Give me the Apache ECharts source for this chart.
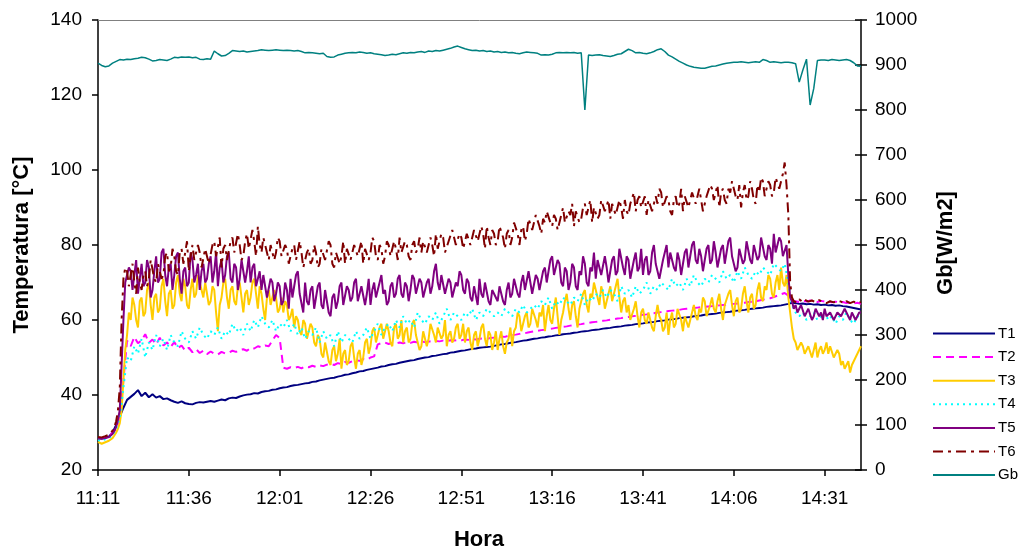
<!DOCTYPE html>
<html>
<head>
<meta charset="utf-8">
<script src="https://cdn.jsdelivr.net/npm/echarts@6/dist/echarts.min.js"></script>
<style>
html,body{margin:0;padding:0;background:#fff;}
#chart{width:1021px;height:550px;}
</style>
</head>
<body>
<div id="chart"></div>
<script>
// Time axis: minutes since 11:11
const START_H = 11, START_M = 11;
const X_MAX = 210;
const X_TICK = 25;
const SERIES_NAMES = ['T1', 'T2', 'T3', 'T4', 'T5', 'T6', 'Gb'];
// minutes between readings for each series
const STEPS = { T1: 1, T2: 1, T3: 0.5, T4: 1, T5: 0.5, T6: 0.5, Gb: 1 };

const T1 = [
28.5,28.4,28.6,28.9,30.0,32.0,34.2,36.6,38.7,39.5,
40.3,41.3,39.7,40.6,39.4,40.2,39.3,39.7,38.9,39.1,
38.6,38.2,37.9,38.3,37.8,37.6,37.5,37.9,38.1,38.0,
38.2,38.4,38.2,38.5,38.8,38.6,39.1,39.3,39.2,39.6,
39.9,40.1,40.2,40.5,40.4,40.8,41.0,41.1,41.4,41.5,
41.8,42.0,42.1,42.4,42.6,42.7,42.9,43.1,43.2,43.5,
43.6,43.9,44.1,44.3,44.5,44.6,44.9,45.1,45.4,45.5,
45.8,46.0,46.3,46.4,46.7,46.9,47.1,47.3,47.6,47.7,
48.0,48.2,48.3,48.6,48.8,49.0,49.2,49.3,49.6,49.8,
50.0,50.1,50.4,50.5,50.7,50.9,51.0,51.3,51.4,51.6,
51.8,51.9,52.1,52.3,52.4,52.6,52.7,52.8,52.9,53.1,
53.3,53.5,53.6,53.8,54.0,54.1,54.3,54.5,54.6,54.8,
55.0,55.1,55.3,55.4,55.6,55.7,55.9,56.0,56.2,56.3,
56.4,56.6,56.7,56.9,57.0,57.1,57.3,57.4,57.5,57.7,
57.8,57.9,58.1,58.2,58.3,58.5,58.6,58.7,58.9,59.0,
59.1,59.3,59.4,59.5,59.7,59.8,59.9,60.1,60.2,60.3,
60.5,60.6,60.7,60.8,61.0,61.1,61.2,61.4,61.5,61.6,
61.7,61.9,62.0,62.1,62.2,62.4,62.5,62.6,62.7,62.9,
63.0,63.1,63.2,63.3,63.5,63.6,63.7,63.8,63.9,64.1,
64.3,64.6,64.5,64.3,64.4,64.2,64.3,64.1,64.2,64.0,
64.1,63.9,64.0,63.8,63.9,63.7,63.6,63.4,63.2,63.0,
62.8];

const T2 = [
28.6,28.5,28.7,29.0,30.0,31.0,34.0,44.0,54.5,53.0,
55.5,53.8,54.6,56.2,53.9,54.8,53.5,55.3,53.2,54.0,
52.8,54.1,52.5,53.2,51.8,52.6,51.4,52.2,51.2,51.8,
50.9,51.6,51.0,50.8,51.5,51.1,51.3,51.8,51.5,52.0,
52.2,51.8,52.6,52.4,53.0,52.7,53.2,53.0,54.5,56.0,
55.2,47.3,47.0,47.4,47.2,47.5,47.1,47.6,47.4,47.8,
47.5,47.9,47.7,48.1,48.3,48.0,48.5,48.2,48.8,48.6,
49.0,49.3,49.1,49.6,49.4,50.0,50.3,53.5,53.8,54.0,
53.6,53.9,53.7,54.0,53.8,54.1,53.9,54.2,54.0,54.3,
54.1,54.3,54.2,54.4,54.3,54.5,54.4,54.6,54.5,54.7,
54.6,54.8,54.7,54.9,54.8,55.0,55.1,55.0,55.2,55.3,
55.4,55.6,55.5,55.8,56.0,56.1,56.3,56.5,56.6,56.8,
57.0,57.1,57.3,57.4,57.6,57.7,57.9,58.0,58.2,58.3,
58.5,58.6,58.8,58.9,59.1,59.2,59.4,59.5,59.6,59.8,
59.9,60.1,60.2,60.4,60.5,60.7,60.8,61.0,61.1,61.3,
61.4,61.5,61.7,61.8,62.0,62.1,62.2,62.4,62.5,62.6,
62.7,62.9,63.0,63.1,63.2,63.3,63.4,63.5,63.6,63.7,
63.8,63.9,64.0,64.1,64.2,64.3,64.4,64.5,64.6,64.8,
64.9,65.0,65.2,65.4,65.6,65.8,66.1,66.5,66.9,67.2,
66.5,65.2,65.0,64.8,65.1,64.9,65.2,65.0,64.8,65.1,
64.9,65.0,64.7,64.9,64.6,64.8,64.5,64.7,64.4,64.6,
64.3];

// half-minute readings
const T3 = [
27.5,27.2,27.0,27.3,27.4,27.6,27.8,28.1,28.5,29.2,30.0,31.0,32.5,36.0,44.0,52.0,56.0,62.0,60.0,66.0,
64,60,58,65,66,61,62,68,70,64,60,66,67,62,63,69,71,65,61,67,
68,63,64,70,72,67,65,71,69,64,63,68,71,66,67,72,72,68,66,70,
70,64,65,69,68,62,57,64,66,70,71,66,63,68,69,65,64,69,70,66,
62,67,68,64,66,70,71,67,63,69,67,63,60,66,68,64,64,68,66,62,
63,66,62,65,64,60,61,63,58,61,60,57,56,60,59,55,55,59,58,54,
53,56,55,51,50,54,54,49,48,52,53,49,51,55,47,51,52,48,49,53,
54,50,47,51,52,48,50,54,55,51,53,57,58,54,54,58,59,55,55,59,
57,54,53,58,59,55,56,60,54,57,58,54,55,59,60,56,56,52,53,57,
57,53,55,59,59,56,54,58,58,55,56,60,53,56,57,54,55,58,59,55,
56,59,54,57,58,54,52,56,57,53,55,58,59,55,53,57,56,52,54,57,
52,55,57,53,51,54,55,58,53,57,58,62,61,57,57,61,62,58,59,63,
63,60,58,62,61,64,57,61,64,60,59,63,66,61,56,60,62,65,67,63,
60,64,65,61,58,63,63,67,68,64,62,67,66,70,70,66,64,69,67,63,
63,67,69,65,65,69,71,66,62,65,66,62,64,60,60,63,65,61,58,62,
63,60,59,62,62,58,57,61,64,61,60,57,58,62,56,60,62,58,59,63,
63,60,57,61,61,58,58,62,64,61,60,63,62,66,65,61,61,64,66,63,
62,65,67,63,60,64,64,67,68,64,61,65,66,62,63,67,69,65,62,66,
67,63,64,68,70,66,65,69,68,72,71,67,66,70,72,68,74,70,69,72,
66,62,58,55,54,52,52,54,53,51,51,53,53,50,52,54,50,52,53,51,
52,54,51,53,53,50,50,52,51,48,49,47,47,49,46,48,48,50,51,52,
53];

const T4 = [
28.0,27.8,28.2,28.5,29.3,31.0,34.0,42.0,50.0,49.0,
53,51,55,50,54,52,56,53,55,52,
56,54,53,57,55,54,57,55,58,56,
55,57,56,58,55,57,56,59,57,58,
56,59,57,60,58,61,59,58,60,57,
59,58,60,57,59,56,58,55,57,56,
58,54,57,55,56,53,57,54,56,55,
54,57,55,56,58,55,57,59,56,58,
59,57,60,58,61,59,60,58,62,60,
59,61,60,62,59,61,63,60,62,61,
60,62,61,63,60,62,61,63,62,61,
62,61,63,62,61,63,62,64,62,63,
64,63,65,64,66,63,65,64,66,65,
64,66,65,67,64,66,65,67,66,68,
66,68,67,65,69,67,68,66,69,67,
68,70,67,69,68,70,69,68,71,69,
70,68,71,69,72,70,69,71,70,72,
71,70,73,71,72,70,73,71,74,72,
71,73,72,74,73,72,75,74,73,75,
70,64,62,61,62,60,61,62,60,61,
62,60,61,59,61,60,62,60,59,61,
60];

// half-minute readings
const T5 = [
28.4,28.3,28.3,28.4,28.5,28.6,28.8,29.1,29.6,30.4,31.5,33.5,36.0,48.0,60.0,70.0,70.0,74.0,73.0,68.0,
72,76,67,71,75,69,70,76,74,66,68,73,77,70,71,78,79,72,69,74,
75,68,72,77,78,71,67,73,74,69,70,78,76,70,72,75,68,73,75,70,
71,75,77,70,73,78,69,74,76,70,72,77,78,71,70,75,74,68,71,76,
76,70,73,77,70,74,75,69,71,73,68,72,72,66,66,71,70,65,67,70,
69,64,65,70,68,63,71,66,66,72,73,67,67,62,70,65,64,68,69,63,
66,69,70,64,63,68,68,62,61,66,67,63,65,69,70,64,64,69,68,65,
66,70,71,65,65,69,69,64,67,71,64,68,70,66,66,70,72,67,68,64,
65,69,70,66,67,71,72,67,66,70,69,65,68,72,71,67,67,71,70,66,
66,70,71,67,69,73,75,70,68,72,72,67,67,71,70,66,66,70,69,73,
72,68,67,71,70,66,65,69,69,64,71,67,66,70,70,65,64,68,68,66,
65,69,69,65,64,68,70,66,67,71,71,67,66,70,72,68,68,73,70,67,
67,72,71,68,68,73,74,70,70,76,77,72,72,76,75,70,69,74,73,68,
70,75,74,69,68,73,72,77,75,70,69,74,73,78,71,76,76,72,72,77,
74,70,70,76,77,72,73,79,79,74,72,77,76,71,71,76,78,73,74,79,
72,76,77,72,73,78,80,75,75,71,71,76,76,80,74,78,78,74,73,78,
76,72,72,78,79,74,74,80,81,76,75,79,77,73,73,79,80,75,76,81,
78,74,74,79,80,75,75,81,82,77,77,73,74,79,79,75,76,81,81,76,
75,80,80,76,77,82,82,77,76,80,79,75,83,78,78,82,81,77,77,80,
72,66,65,63,64,62,63,64,64,61,62,63,63,60,61,63,63,61,62,60,
63,61,61,62,62,60,60,62,62,61,61,63,63,61,60,62,62,60,61,62,
62];

// half-minute readings
const T6 = [
28.8,28.7,28.7,28.8,29.0,29.2,29.4,29.9,30.5,31.5,33.0,36.0,42.0,60.0,71.0,74.0,73.0,69.0,72.0,75.0,
70,67,74,70,68,72,73,69,71,76,76,71,70,75,75,71,72,77,78,73,
74,79,77,73,72,78,79,75,75,81,73,77,80,76,76,80,78,74,74,79,
79,75,75,80,81,77,77,82,74,79,80,76,76,81,82,78,78,83,80,76,
77,81,83,79,79,84,81,77,85,80,78,82,82,78,76,80,80,76,78,82,
81,77,77,80,79,75,75,79,80,76,76,81,78,74,74,78,79,75,76,80,
78,74,75,79,79,76,76,81,80,75,74,78,78,75,77,81,75,79,79,76,
76,80,80,77,77,81,75,79,79,76,78,82,81,77,76,80,79,75,77,81,
80,77,77,81,79,76,82,78,78,81,80,77,76,80,81,78,79,82,78,81,
81,78,78,82,80,77,83,79,79,83,82,78,78,81,81,84,84,80,80,83,
82,79,79,83,83,80,80,84,84,81,81,85,83,79,85,82,80,84,83,80,
81,85,85,82,79,83,84,80,82,86,86,83,80,84,85,81,83,87,87,84,
84,88,88,85,83,87,86,89,89,86,85,88,87,84,84,88,90,86,86,89,
88,91,85,89,89,86,87,90,91,88,88,92,86,90,90,87,88,92,92,89,
89,92,87,91,91,88,88,92,90,87,92,89,88,91,91,94,89,92,93,90,
90,93,88,92,92,89,89,93,91,95,94,90,90,93,92,89,88,92,93,90,
91,95,89,93,93,90,90,94,94,91,91,95,92,89,89,93,93,96,95,92,
92,96,90,94,95,92,91,95,94,97,97,93,92,96,90,94,96,92,93,97,
95,92,91,96,94,98,97,93,93,97,96,93,94,98,98,95,95,99,102,96,
88,70,66,65,65,64.6,65.5,65.0,64.8,65.4,65.3,64.9,64.6,65.2,65.2,64.7,64.9,65.3,65.4,64.8,
65.0,64.5,64.6,65.0,65.1,64.7,64.7,65.2,65.3,64.9,64.8,64.4,65.0,64.7,64.5,64.9,64.9,64.5,64.4,64.9,
64.8];

const Gb = [
904,899,896,898,904,908,912,911,913,912,
914,915,917,916,913,909,910,912,911,910,
913,917,916,918,917,918,916,917,913,912,
914,913,931,925,920,921,926,932,931,930,
931,929,930,931,932,934,933,932,933,934,
933,932,933,932,931,932,930,927,928,927,
926,925,926,919,917,918,922,924,926,927,
928,927,929,928,926,927,925,924,923,921,
922,924,923,925,927,926,928,927,929,930,
928,931,930,932,931,933,935,937,940,942,
939,936,934,932,933,931,932,930,931,929,
930,928,929,927,928,926,925,927,929,928,
927,926,922,923,922,924,927,928,927,928,
927,928,926,927,800,922,921,922,923,921,
920,919,921,924,925,930,935,932,927,928,
926,925,927,930,934,936,930,922,918,913,
908,904,900,897,895,894,893,893,895,897,
898,900,902,904,905,906,906,907,906,905,
906,907,906,912,910,906,907,906,905,906,
906,905,903,862,889,913,811,848,910,911,
911,910,912,911,910,911,912,910,905,898,
897];

function fmtTime(min) {
  const t = START_H * 60 + START_M + Math.round(min);
  return Math.floor(t / 60) + ':' + String(t % 60).padStart(2, '0');
}
function pts(arr, step) { return arr.map((v, i) => [i * step, v]); }

const FONT = "'Liberation Sans', Arial, sans-serif";
const styles = {
  T1: { color: '#000080', type: 'solid', width: 2 },
  T2: { color: '#FF00FF', type: [8, 5], width: 2 },
  T3: { color: '#FFCC00', type: 'solid', width: 2 },
  T4: { color: '#00FFFF', type: [2, 4], width: 2 },
  T5: { color: '#800080', type: 'solid', width: 2 },
  T6: { color: '#800000', type: [10, 5, 3, 5], width: 2 },
  Gb: { color: '#008080', type: 'solid', width: 1.5 }
};
const dataMap = { T1, T2, T3, T4, T5, T6, Gb };

const chart = echarts.init(document.getElementById('chart'), null, { renderer: 'canvas' });
chart.setOption({
  animation: false,
  backgroundColor: '#ffffff',
  textStyle: { fontFamily: FONT },
  grid: { left: 98, right: 160, top: 20, bottom: 80, containLabel: false },
  legend: {
    orient: 'vertical', left: 932, top: 326, padding: 0,
    itemWidth: 62, itemHeight: 14, itemGap: 8.6,
    selectedMode: false,
    itemStyle: { opacity: 0 },
    textStyle: { fontFamily: FONT, fontSize: 15, color: '#000', lineHeight: 14, padding: [0, 0, 0, -2] },
    data: SERIES_NAMES
  },
  xAxis: [{
    type: 'value', min: 0, max: X_MAX, interval: X_TICK,
    axisLine: { onZero: false, lineStyle: { color: '#000', width: 1.5 } },
    axisTick: { length: 6, lineStyle: { color: '#000', width: 1.5 } },
    axisLabel: { formatter: fmtTime, fontSize: 19, color: '#000', margin: 19, fontFamily: FONT, showMaxLabel: false },
    splitLine: { show: false }
  }, {
    type: 'value', min: 0, max: X_MAX, position: 'top',
    axisLine: { onZero: false, lineStyle: { color: '#808080', width: 1 } },
    axisTick: { show: false }, axisLabel: { show: false }, splitLine: { show: false }
  }],
  yAxis: [{
    type: 'value', min: 20, max: 140, interval: 20, position: 'left',
    axisLine: { show: true, onZero: false, lineStyle: { color: '#000', width: 1.5 } },
    axisTick: { show: true, length: 6, lineStyle: { color: '#000', width: 1.5 } },
    axisLabel: { fontSize: 19, color: '#000', margin: 16, fontFamily: FONT },
    splitLine: { show: false }
  }, {
    type: 'value', min: 0, max: 1000, interval: 100, position: 'right',
    axisLine: { show: true, onZero: false, lineStyle: { color: '#000', width: 1.5 } },
    axisTick: { show: true, length: 6, lineStyle: { color: '#000', width: 1.5 } },
    axisLabel: { fontSize: 19, color: '#000', margin: 14, fontFamily: FONT, formatter: v => String(v) },
    splitLine: { show: false }
  }, {
    type: 'value', min: 0, max: 1000, interval: 100, position: 'right',
    axisLine: { show: false, onZero: false },
    axisTick: { show: true, inside: true, length: 6, lineStyle: { color: '#000', width: 1.5 } },
    axisLabel: { show: false },
    splitLine: { show: false }
  }],
  graphic: [
    { type: 'text', x: 22, y: 245, rotation: Math.PI / 2,
      style: { text: 'Temperatura [°C]', font: "bold 22px " + FONT, fill: '#000', textAlign: 'center', textVerticalAlign: 'middle' } },
    { type: 'text', x: 479, y: 540,
      style: { text: 'Hora', font: "bold 22px " + FONT, fill: '#000', textAlign: 'center', textVerticalAlign: 'middle' } },
    { type: 'text', x: 946, y: 243, rotation: Math.PI / 2,
      style: { text: 'Gb[W/m2]', font: "bold 22px " + FONT, fill: '#000', textAlign: 'center', textVerticalAlign: 'middle' } }
  ],
  series: SERIES_NAMES.map(n => ({
    name: n, type: 'line',
    yAxisIndex: n === 'Gb' ? 1 : 0,
    data: pts(dataMap[n], STEPS[n]),
    showSymbol: false, symbol: 'none',
    lineStyle: styles[n],
    itemStyle: { color: styles[n].color },
    emphasis: { disabled: true }
  }))
});
</script>
</body>
</html>
